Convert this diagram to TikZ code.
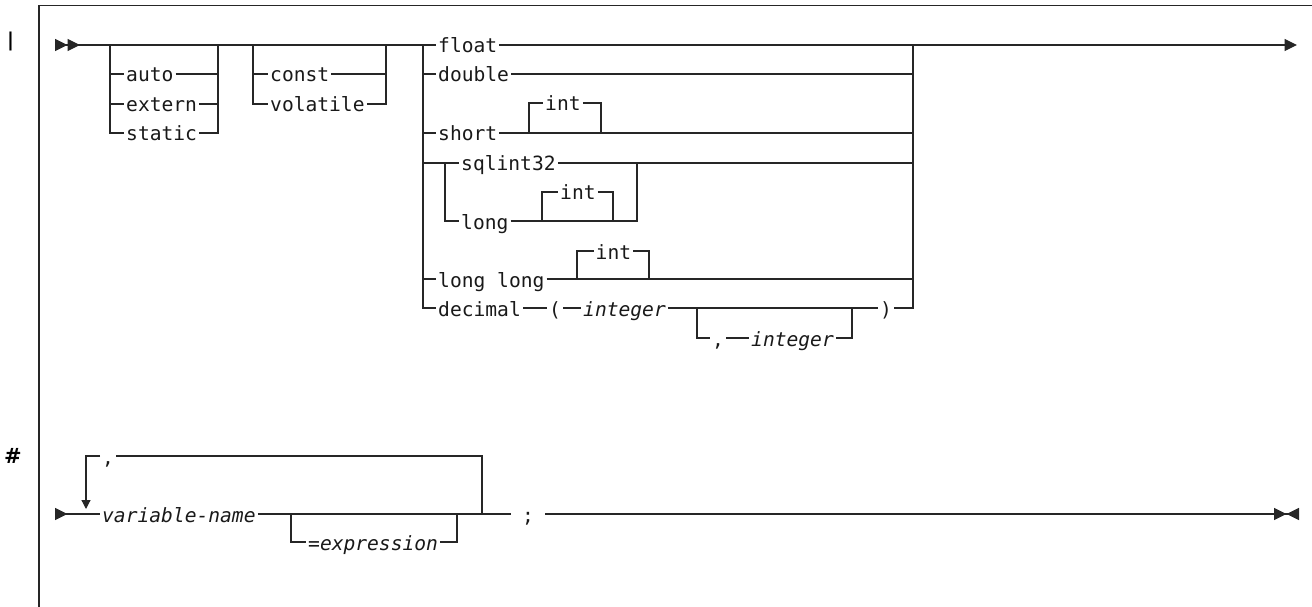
\documentclass[tikz,border=0pt]{standalone}
\usepackage{fontspec}
\setmainfont{DejaVu Sans}
\newfontfamily\monofam{DejaVu Sans Mono}
\usetikzlibrary{arrows.meta}
\newcommand\railfont{\monofam\fontsize{19.6}{22}\selectfont}
\tikzset{
  rail/.style={line width=1.2pt, draw=black!85},
  kw/.style={font=\railfont, text=black!90, inner xsep=2pt, inner ysep=0pt,
    text height=16pt, text depth=0pt, anchor=west},
  var/.style={kw, font=\railfont\itshape},
  fwdtip/.tip={Triangle[length=12.5pt,width=12pt]},
  revtip/.tip={Triangle[reversed,length=12.5pt,width=12pt]},
}

\begin{document}
\begin{tikzpicture}[x=1pt,y=-1pt]
  \useasboundingbox (0,0) rectangle (1312,607);
  \draw[line width=1.3pt, black!85] (39,607) -- (39,5.5) -- (1312,5.5);
  \node[inner sep=0pt] (revbar) at (10.5,41.5) {\fontsize{19}{19}\selectfont\bfseries |};
  \node[inner sep=0pt] (hash) at (13,455.5) {\fontsize{21}{21}\selectfont\bfseries \#};

  % first line
  \coordinate (start1) at (55,45);
  \coordinate (end1) at (1297,45);
  \coordinate (g1l) at (110,45); \coordinate (g1r) at (218,45);
  \coordinate (g2l) at (253,45); \coordinate (g2r) at (386,45);
  \coordinate (g3l) at (423,45); \coordinate (g3r) at (913,45);
  \coordinate (g4l) at (445,163); \coordinate (g4r) at (637,163);
  \coordinate (g5l) at (697,308); \coordinate (g5r) at (852,308);
  \coordinate (bA) at (529,133); \coordinate (bAr) at (601,133);
  \coordinate (bB) at (542,221); \coordinate (bBr) at (613,221);
  \coordinate (bC) at (577,279); \coordinate (bCr) at (649,279);

  \node[kw] (auto) at (124,74) {auto};
  \node[kw] (extern) at (124,104) {extern};
  \node[kw] (static) at (124,133) {static};
  \node[kw] (const) at (268,74) {const};
  \node[kw] (volatile) at (268,104) {volatile};
  \node[kw] (float) at (436,45) {float};
  \node[kw] (double) at (436,74) {double};
  \node[kw] (short) at (436,133) {short};
  \node[kw] (sqlint) at (459,163) {sqlint32};
  \node[kw] (long) at (459,221) {long};
  \node[kw] (longlong) at (436,279) {long long};
  \node[kw] (decimal) at (436,308) {decimal};
  \node[kw] (lpar) at (547,308) {(};
  \node[var] (prec) at (581,308) {integer};
  \node[kw] (rpar) at (878,308) {)};
  \node[kw] (comma) at (710,338) {,};
  \node[var] (scale) at (749,338) {integer};
  \node[kw] (intA) at (543,103) {int};
  \node[kw] (intB) at (558,192) {int};
  \node[kw] (intC) at (593.5,251) {int};

  \draw[rail, {revtip[]revtip[]}-] (start1) -- (float.west);
  \draw[rail, -fwdtip] (float.east) -- (end1);

  \draw[rail] (g1l) |- (static.west);
  \draw[rail] (g1l |- auto.west) -- (auto.west);
  \draw[rail] (g1l |- extern.west) -- (extern.west);
  \draw[rail] (static.east) -| (g1r);
  \draw[rail] (auto.east) -- (g1r |- auto.east);
  \draw[rail] (extern.east) -- (g1r |- extern.east);

  \draw[rail] (g2l) |- (volatile.west);
  \draw[rail] (g2l |- const.west) -- (const.west);
  \draw[rail] (volatile.east) -| (g2r);
  \draw[rail] (const.east) -- (g2r |- const.east);

  \draw[rail] (g3l) |- (decimal.west);
  \foreach \n in {double,short,longlong} \draw[rail] (g3l |- \n.west) -- (\n.west);
  \draw[rail] (g3l |- sqlint.west) -- (sqlint.west);
  \draw[rail] (rpar.east) -| (g3r);
  \foreach \n in {double,short,sqlint,longlong} \draw[rail] (\n.east) -- (g3r |- \n.east);

  \draw[rail] (g4l) |- (long.west);
  \draw[rail] (long.east) -| (g4r);

  \draw[rail] (bA) |- (intA.west);
  \draw[rail] (intA.east) -| (bAr);
  \draw[rail] (bB) |- (intB.west);
  \draw[rail] (intB.east) -| (bBr);
  \draw[rail] (bC) |- (intC.west);
  \draw[rail] (intC.east) -| (bCr);

  \draw[rail] (decimal.east) -- (lpar.west);
  \draw[rail] (lpar.east) -- (prec.west);
  \draw[rail] (prec.east) -- (rpar.west);
  \draw[rail] (g5l) |- (comma.west);
  \draw[rail] (comma.east) -- (scale.west);
  \draw[rail] (scale.east) -| (g5r);

  % second line
  \coordinate (start2) at (55,514);
  \coordinate (end2) at (1299,514);
  \coordinate (g6l) at (291,514); \coordinate (g6r) at (457,514);
  \coordinate (loopr) at (482,514); \coordinate (loopin) at (86,509);

  \node[var] (varname) at (100,514) {variable-name};
  \node[var] (expr) at (306,542) {=expression};
  \node[kw] (sep) at (100,456) {,};
  \node[kw, inner xsep=11pt] (semi) at (511,514) {;};

  \draw[rail, {revtip[]}-] (start2) -- (varname.west);
  \draw[rail] (varname.east) -- (semi.west);
  \draw[rail, -{fwdtip[]revtip[]}] (semi.east) -- (end2);
  \draw[rail] (g6l) |- (expr.west);
  \draw[rail] (expr.east) -| (g6r);
  \draw[rail, -{Triangle[length=9pt,width=9pt]}] (sep.west) -| (loopin);
  \draw[rail] (sep.east) -| (loopr);
\end{tikzpicture}
\end{document}
